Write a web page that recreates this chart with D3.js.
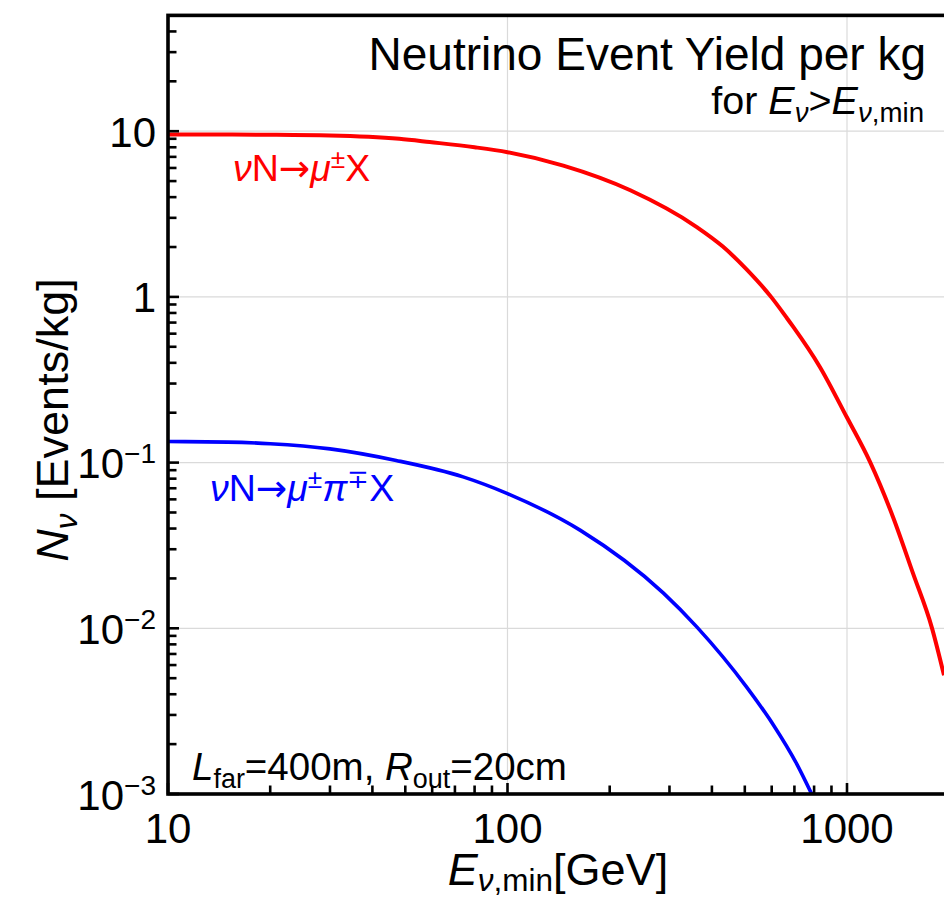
<!DOCTYPE html>
<html>
<head>
<meta charset="utf-8">
<script src="https://cdn.jsdelivr.net/npm/d3@7"></script>
<style>
  body { margin: 0; background: #fff; }
  svg { display: block; font-family: "Liberation Sans", Arial, sans-serif; }
</style>
</head>
<body>
<svg id="chart" width="944" height="898"></svg>
<script>
// nu N -> mu X (red)
const muEnergy = [10, 15, 20, 30, 48, 59, 80, 100, 146, 230, 361, 430, 507, 600, 665, 693, 832, 1000, 1169, 1366, 1563, 1778, 1931];
const muYield  = [9.55, 9.54, 9.52, 9.43, 9.0, 8.6, 8.0, 7.47, 6.2, 4.4, 2.64, 2.02, 1.46, 0.99, 0.746, 0.664, 0.378, 0.187, 0.101, 0.047, 0.0216, 0.0101, 0.0052];

// nu N -> mu pi X (blue)
const piEnergy = [10, 15, 20, 30, 47, 74, 100, 164, 288, 361, 507, 607, 711, 787];
const piYield  = [0.134, 0.133, 0.130, 0.121, 0.103, 0.082, 0.065, 0.039, 0.0163, 0.0102, 0.0044, 0.00261, 0.00152, 0.001];

const xTicks = [10, 100, 1000];
const xTickLabels = ["10", "100", "1000"];
const yTicks = [1e-3, 1e-2, 1e-1, 1, 10];
const yTickLabels = [["10", "−3"], ["10", "−2"], ["10", "−1"], ["1", ""], ["10", ""]];
const xDomain = [10, 2000];
const yDomain = [1e-3, 50];

const svg = d3.select("#chart");
const left = 168, bottom = 794, xDecade = 339.5, yDecade = 165.7;

const x = d3.scaleLog().domain(xDomain)
  .range([left, left + xDecade * Math.log10(xDomain[1] / xDomain[0])]);
const y = d3.scaleLog().domain(yDomain)
  .range([bottom, bottom - yDecade * Math.log10(yDomain[1] / yDomain[0])]);
const [x0, x1] = x.range();
const [y0, y1] = [y.range()[1], y.range()[0]];

// rich text: runs of {t, i (italic), sub, sup, f (font family)}
function rich(text, runs, size, subDrop = 0.2) {
  let shift = 0;
  runs.forEach(r => {
    const target = r.sub ? size * subDrop : r.sup ? -size * 0.36 : 0;
    const ts = text.append("tspan").attr("dy", target - shift).text(r.t);
    shift = target;
    if (r.sub || r.sup) ts.attr("font-size", size * 0.7);
    if (r.i) ts.attr("font-style", "italic");
    if (r.f) ts.attr("font-family", r.f);
  });
  return text;
}

// grid
svg.append("g").selectAll("line").data(xTicks.filter(d => d > xDomain[0])).join("line")
  .attr("x1", d => x(d)).attr("x2", d => x(d)).attr("y1", y0).attr("y2", y1)
  .attr("stroke", "#dadada").attr("stroke-width", 1.2);
svg.append("g").selectAll("line").data(yTicks.filter(d => d > yDomain[0])).join("line")
  .attr("x1", x0).attr("x2", x1).attr("y1", d => y(d)).attr("y2", d => y(d))
  .attr("stroke", "#dadada").attr("stroke-width", 1.2);

// curves
svg.append("clipPath").attr("id", "plot").append("rect")
  .attr("x", x0).attr("y", y0).attr("width", x1 - x0).attr("height", y1 - y0);
const line = d3.line().x(d => x(d[0])).y(d => y(d[1])).curve(d3.curveMonotoneX);
svg.append("path").datum(d3.zip(muEnergy, muYield))
  .attr("d", line).attr("fill", "none").attr("stroke", "#ff0000")
  .attr("stroke-width", 4).attr("clip-path", "url(#plot)");
svg.append("path").datum(d3.zip(piEnergy, piYield))
  .attr("d", line).attr("fill", "none").attr("stroke", "#0000ff")
  .attr("stroke-width", 3.6).attr("clip-path", "url(#plot)");

// frame
svg.append("rect").attr("x", x0).attr("y", y0).attr("width", x1 - x0).attr("height", y1 - y0)
  .attr("fill", "none").attr("stroke", "#000").attr("stroke-width", 3.6);

// ticks pointing inward: majors at decades, minors 2..9
const minors = scale => {
  const [a, b] = scale.domain();
  const out = [];
  for (let e = Math.floor(Math.log10(a)); e <= Math.ceil(Math.log10(b)); e++)
    for (let m = 2; m <= 9; m++) {
      const v = m * Math.pow(10, e);
      if (v > a && v < b) out.push(v);
    }
  return out;
};
const tickG = svg.append("g").attr("stroke", "#000").attr("stroke-width", 2.6);
tickG.selectAll(".xmaj").data(xTicks).join("line")
  .attr("x1", d => x(d)).attr("x2", d => x(d)).attr("y1", bottom).attr("y2", bottom - 11);
tickG.selectAll(".xmin").data(minors(x)).join("line")
  .attr("x1", d => x(d)).attr("x2", d => x(d)).attr("y1", bottom).attr("y2", bottom - 8.5);
tickG.selectAll(".ymaj").data(yTicks).join("line")
  .attr("x1", left).attr("x2", left + 11).attr("y1", d => y(d)).attr("y2", d => y(d));
tickG.selectAll(".ymin").data(minors(y)).join("line")
  .attr("x1", left).attr("x2", left + 8.5).attr("y1", d => y(d)).attr("y2", d => y(d));

// tick labels
svg.append("g").selectAll("text").data(xTicks).join("text")
  .attr("x", d => x(d)).attr("y", 843).attr("text-anchor", "middle")
  .attr("font-size", 42).text((d, i) => xTickLabels[i]);

yTicks.forEach((d, i) => {
  const [base, exp] = yTickLabels[i];
  const t = svg.append("text").attr("x", 156).attr("y", y(d) + 15.5)
    .attr("text-anchor", "end").attr("font-size", 42);
  t.append("tspan").text(base);
  if (exp) t.append("tspan").attr("dy", -15).attr("font-size", 28).text(exp);
});

// axis titles
rich(svg.append("text").attr("x", 558).attr("y", 885).attr("text-anchor", "middle").attr("font-size", 45),
  [{ t: "E", i: true }, { t: "ν", i: true, sub: true }, { t: ",min", sub: true }, { t: "[GeV]" }], 45, 0.13);

rich(svg.append("text").attr("transform", "translate(68,420) rotate(-90)")
  .attr("text-anchor", "middle").attr("font-size", 45),
  [{ t: "N", i: true }, { t: "ν", i: true, sub: true }, { t: " [Events/kg]" }], 45);

// title block
svg.append("text").attr("x", 926).attr("y", 70).attr("text-anchor", "end")
  .attr("font-size", 46).text("Neutrino Event Yield per kg");
rich(svg.append("text").attr("x", 924).attr("y", 114).attr("text-anchor", "end").attr("font-size", 39.5),
  [{ t: "for " }, { t: "E", i: true }, { t: "ν", i: true, sub: true }, { t: ">" },
   { t: "E", i: true }, { t: "ν", i: true, sub: true }, { t: ",min", sub: true }], 39.5);

// curve labels
const arrow = "DejaVu Sans";
rich(svg.append("text").attr("x", 233).attr("y", 181).attr("font-size", 37.5).attr("fill", "#ff0000"),
  [{ t: "ν", i: true }, { t: "N" }, { t: "→", f: arrow }, { t: "μ", i: true }, { t: "±", sup: true }, { t: "X" }], 37.5);
rich(svg.append("text").attr("x", 210).attr("y", 501).attr("font-size", 37.5).attr("fill", "#0000ff"),
  [{ t: "ν", i: true }, { t: "N" }, { t: "→", f: arrow }, { t: "μ", i: true }, { t: "±", sup: true },
   { t: "π", i: true }, { t: "∓", sup: true }, { t: "X" }], 37.5);

// setup note
rich(svg.append("text").attr("x", 192).attr("y", 780).attr("font-size", 38.5),
  [{ t: "L", i: true }, { t: "far", sub: true }, { t: "=400m, " },
   { t: "R", i: true }, { t: "out", sub: true }, { t: "=20cm" }], 38.5);
</script>
</body>
</html>
